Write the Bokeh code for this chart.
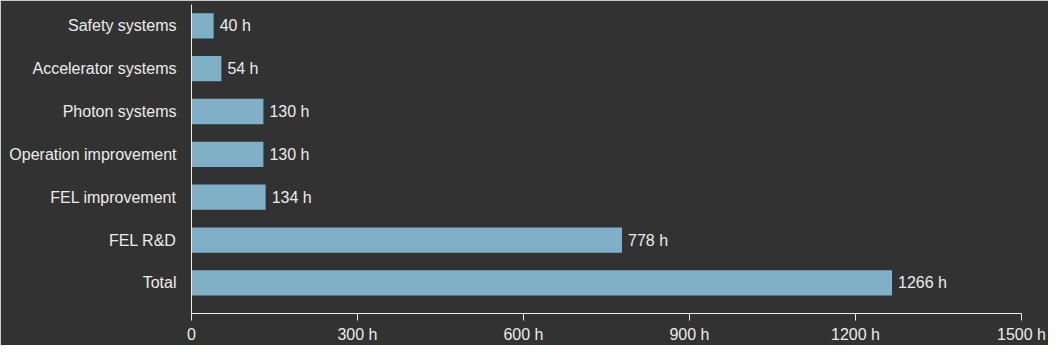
from bokeh.plotting import figure
from bokeh.models import ColumnDataSource, Range1d, FixedTicker
from bokeh.core.properties import value
from bokeh.embed import file_html
from bokeh.resources import INLINE

categories = ["Total", "FEL R&D", "FEL improvement", "Operation improvement",
              "Photon systems", "Accelerator systems", "Safety systems"]
hours = [1266, 778, 134, 130, 130, 54, 40]
bar_labels = ["1266 h", "778 h", "134 h", "130 h", "130 h", "54 h", "40 h"]
x_ticks = [0, 300, 600, 900, 1200, 1500]
x_tick_labels = ["0", "300 h", "600 h", "900 h", "1200 h", "1500 h"]

BG = "#323232"
BAR = "#80afc8"
TXT = "#ececec"
FONT = "Liberation Sans"

pos = list(range(len(categories)))
src = ColumnDataSource(dict(y=pos, x=hours, lab=bar_labels, cat=categories))

p = figure(width=1048, height=345, output_backend="svg", toolbar_location=None,
           x_range=Range1d(0, 1500), y_range=Range1d(-0.714, 6.497),
           min_border_left=191, min_border_right=27, min_border_top=4,
           min_border_bottom=29)
p.background_fill_color = BG
p.border_fill_color = BG
p.outline_line_color = BG
p.outline_line_width = 2
p.xgrid.visible = False
p.ygrid.visible = False

p.hbar(y="y", right="x", left=0, height=0.59, source=src,
       fill_color=BAR, line_color=None)
p.text(x="x", y="y", text="lab", source=src, x_offset=6,
       text_baseline="middle", text_align="left",
       text_font=value(FONT), text_font_size="16px", text_color=TXT)

xa = p.xaxis[0]
xa.ticker = FixedTicker(ticks=x_ticks)
xa.major_label_overrides = {t: l for t, l in zip(x_ticks, x_tick_labels)}
xa.axis_line_color = TXT
xa.major_tick_line_color = TXT
xa.major_tick_in = 0
xa.major_tick_out = 7
xa.minor_tick_line_color = None
xa.major_label_text_color = TXT
xa.major_label_text_font = FONT
xa.major_label_text_font_size = "16px"
xa.major_label_standoff = 5

ya = p.yaxis[0]
ya.ticker = FixedTicker(ticks=pos)
ya.major_label_overrides = {i: c for i, c in enumerate(categories)}
ya.axis_line_color = TXT
ya.major_tick_line_color = None
ya.minor_tick_line_color = None
ya.major_tick_in = 0
ya.major_tick_out = 0
ya.major_label_text_color = TXT
ya.major_label_text_font = FONT
ya.major_label_text_font_size = "16px"
ya.major_label_standoff = 15

open("out.html", "w").write(file_html(p, INLINE))
